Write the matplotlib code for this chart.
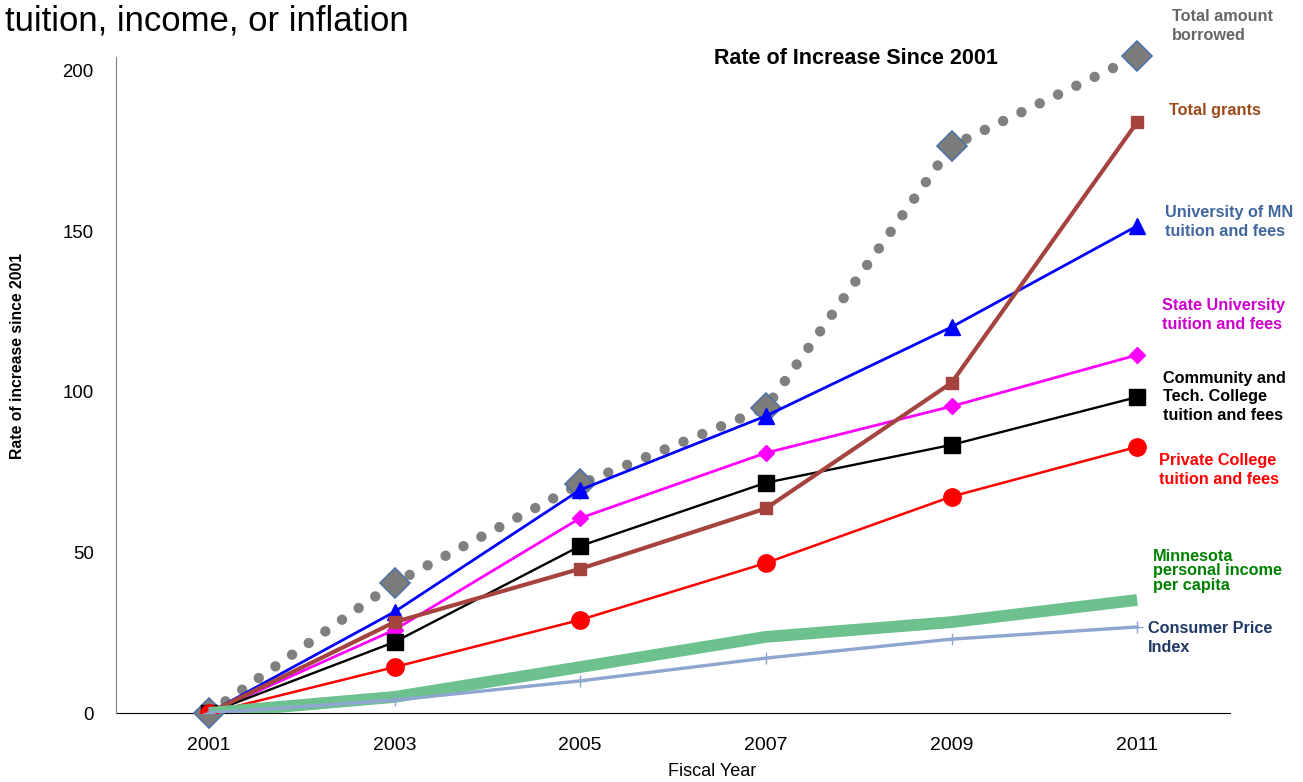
"""Rate of increase since 2001: tuition, aid, income and CPI (Minnesota)."""
import matplotlib
matplotlib.use("Agg")
import matplotlib.pyplot as plt

plt.rcParams["font.family"] = ["Liberation Sans", "DejaVu Sans"]

years = [2001, 2003, 2005, 2007, 2009, 2011]

borrowed = [0, 40.5, 71.3, 95.0, 176.6, 204.5]
grants = [0, 28.3, 44.9, 63.7, 102.8, 184.0]
umn = [0, 31.5, 69.5, 92.5, 120.2, 151.7]
state_u = [0, 25.9, 60.7, 81.0, 95.5, 111.5]
community = [0, 22.1, 52.0, 71.7, 83.5, 98.4]
private = [0, 14.3, 29.0, 46.7, 67.4, 82.9]
income = [0, 5.0, 14.3, 23.7, 28.3, 35.2]
cpi = [0, 4.0, 10.0, 17.1, 23.0, 26.8]

W, H = 1303, 782


def px(x, y):
    """pixel position (top-left origin) -> figure fraction"""
    return x / W, 1 - y / H


fig = plt.figure(figsize=(W / 100, H / 100), dpi=100)
ax = fig.add_axes([116 / W, 1 - 713 / H, (1230 - 116) / W, (713 - 57) / H])
ax.set_xlim(2000, 2012)
ax.set_ylim(0, 204.3)

# series, bottom to top
ax.plot(years, borrowed, color="#808080", linewidth=7.5, linestyle=(0, (0.001, 1.95)),
        dash_capstyle="round", zorder=2, clip_on=False)
ax.plot(years, borrowed, linestyle="none", marker="D", markersize=15.5,
        markerfacecolor="#7c7c7c", markeredgecolor="#4f73a8", markeredgewidth=1.2,
        zorder=2.1, clip_on=False)
ax.plot(years, umn, color="#0000ff", linewidth=2.0, marker="^", markersize=12, zorder=3)
ax.plot(years, state_u, color="#ff00ff", linewidth=2.0, marker="D", markersize=8, zorder=3.1)
ax.plot(years, community, color="black", linewidth=1.7, marker="s", markersize=11, zorder=3.2)
ax.plot(years, grants, color="#a5443f", linewidth=3.0, marker="s", markersize=9, zorder=3.3)
ax.plot(years, private, color="#ff0000", linewidth=1.8, marker="o", markersize=12.5, zorder=3.4)
ax.plot(years, income, color="#6cc18f", linewidth=8.5, solid_capstyle="butt", zorder=3.5)
ax.plot(years, cpi, color="#8fa6d0", linewidth=2.4, marker="+", markersize=9,
        markeredgewidth=1.0, zorder=3.6)

# axes styling
for side in ("top", "right"):
    ax.spines[side].set_visible(False)
ax.spines["left"].set_color("#808080")
ax.spines["bottom"].set_color("black")
ax.spines["bottom"].set_zorder(1)
ax.set_xticks(years)
ax.set_yticks([0, 50, 100, 150, 200])
ax.tick_params(axis="both", length=0)
ax.tick_params(axis="x", pad=17, labelsize=14)
ax.tick_params(axis="y", pad=16, labelsize=13.4)

fig.text(*px(712, 772), "Fiscal Year", fontsize=13, ha="center", va="center")
fig.text(*px(18, 356), "Rate of increase since 2001", fontsize=11.3, fontweight="bold",
         rotation=90, ha="center", va="center")

fig.text(*px(5, 21), "tuition, income, or inflation", fontsize=25, va="center", ha="left")
fig.text(*px(856, 58), "Rate of Increase Since 2001", fontsize=15.5, fontweight="bold",
         va="center", ha="center")

labels = [
    (1172, 26, "Total amount\nborrowed", "#666666"),
    (1169, 110, "Total grants", "#9c4a18"),
    (1165, 222, "University of MN\ntuition and fees", "#41679e"),
    (1162, 315, "State University\ntuition and fees", "#cc00cc"),
    (1163, 397, "Community and\nTech. College\ntuition and fees", "black"),
    (1159, 470, "Private College\ntuition and fees", "#ff0000"),
    (1153, 571, "Minnesota\npersonal income\nper capita", "#008000"),
    (1148, 638, "Consumer Price\nIndex", "#1f3864"),
]
for x, y, text, color in labels:
    ls = 0.97 if text.startswith("Minnesota") else 1.32
    fig.text(*px(x, y), text, fontsize=11.7, fontweight="bold", color=color,
             va="center", ha="left", linespacing=ls)

fig.savefig("out.png", dpi=100)
